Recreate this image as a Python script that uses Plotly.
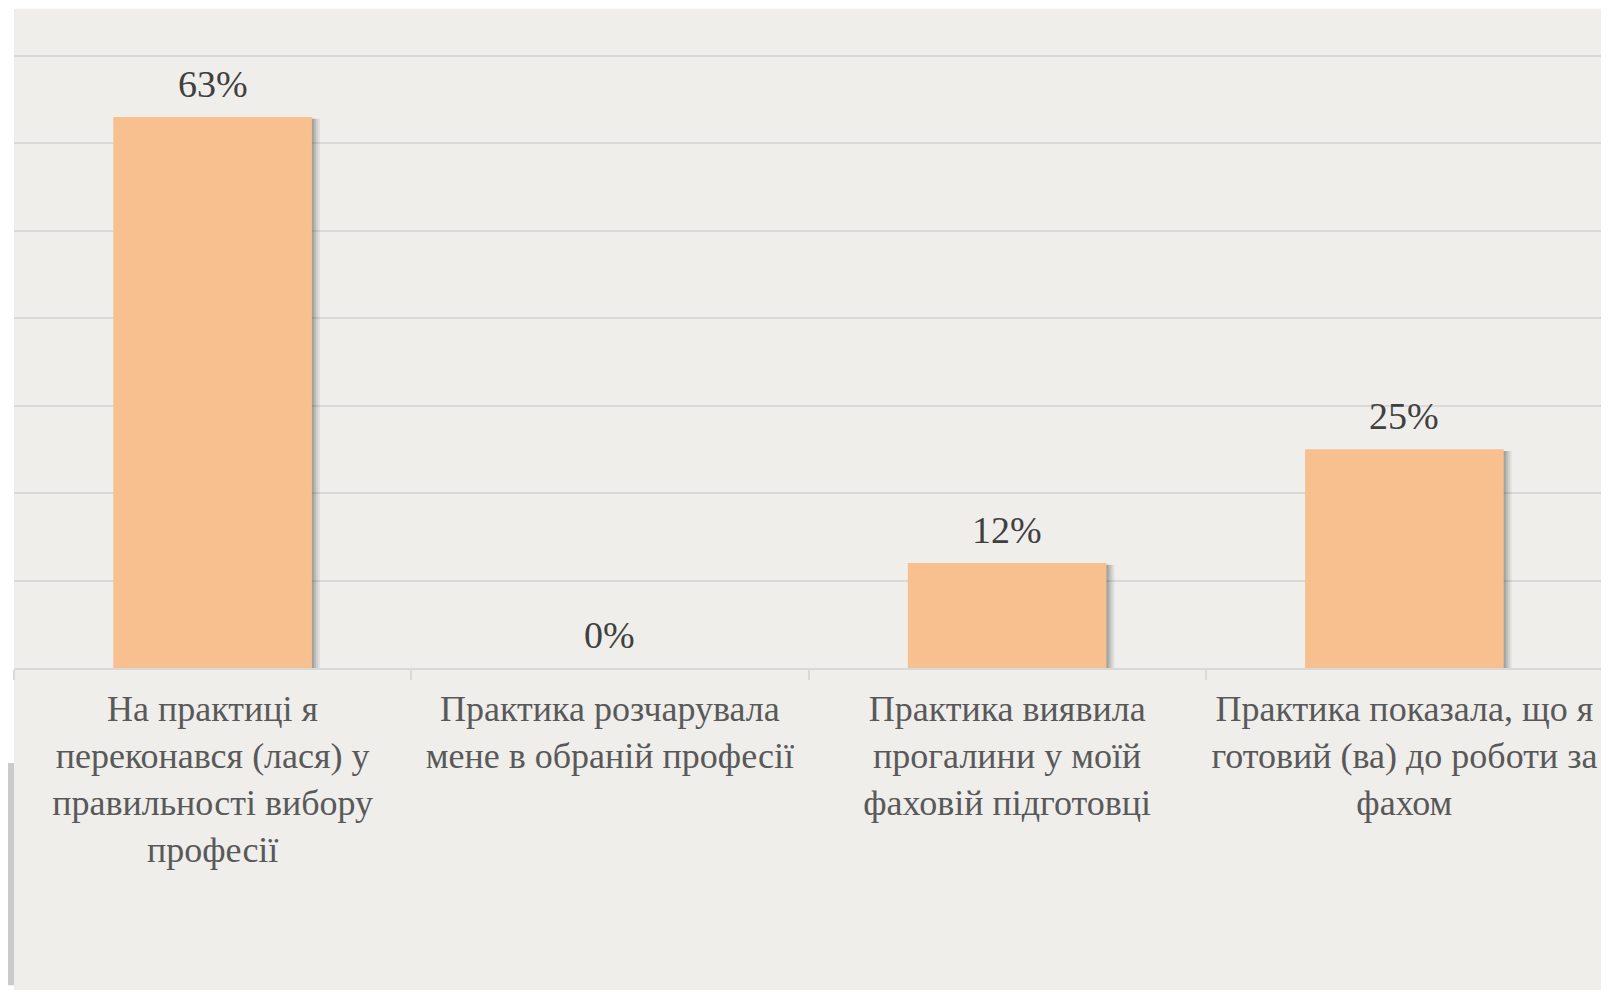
import plotly.graph_objects as go

categories = [
    "На практиці я<br>переконався (лася) у<br>правильності вибору<br>професії",
    "Практика розчарувала<br>мене в обраній професії",
    "Практика виявила<br>прогалини у моїй<br>фаховій підготовці",
    "Практика показала, що я<br>готовий (ва) до роботи за<br>фахом",
]
values = [0.63, 0.0, 0.12, 0.25]
labels = ["63%", "0%", "12%", "25%"]

PANEL = "#EFEEEB"
BAR = "#F9C08F"
# page body has an 8px margin
W, H = 1601, 982
L, R, T, B = 6, 6, 39.3, 322
pw = W - L - R
ph = H - T - B
cat_px = pw / 4.0
YMAX = 0.71

fig = go.Figure()
# soft shadow layers
for shift, alpha in [(8, 0.06), (6, 0.08), (4, 0.10), (2, 0.12)]:
    fig.add_trace(go.Bar(
        x=categories, y=[v + 0.002 if v > 0 else 0.002 for v in values], base=-0.004,
        width=0.5, offset=-0.25 + shift / cat_px,
        marker=dict(color=f"rgba(0,0,0,{alpha})", line=dict(width=0)),
        hoverinfo="skip", showlegend=False,
    ))
fig.add_trace(go.Bar(
    x=categories, y=values, width=0.5,
    marker=dict(color=BAR, line=dict(width=0)),
    showlegend=False,
))
for c, v, t in zip(categories, values, labels):
    fig.add_annotation(x=c, y=v, text=t, showarrow=False, yanchor="bottom", yshift=10,
                       font=dict(family="Liberation Serif", size=38, color="#404040"))

# background decorations (white top strip, left white strip and left shadow)
fig.add_shape(type="rect", xref="paper", yref="paper", x0=-L / pw - 0.01, x1=1.02,
              y0=1 + (T - 1) / ph, y1=1 + T / ph + 0.01, fillcolor="white", line_width=0, layer="below")
fig.add_shape(type="rect", xref="paper", yref="paper", x0=-L / pw - 0.01, x1=0,
              y0=-B / ph - 0.01, y1=1 + T / ph + 0.01, fillcolor="white", line_width=0, layer="below")
fig.add_shape(type="rect", xref="paper", yref="paper", x0=-L / pw - 0.01, x1=0,
              y0=-(977 - 660) / ph, y1=-(755 - 660) / ph, fillcolor="#CACACA", line_width=0, layer="below")

fig.update_layout(
    width=W, height=H,
    margin=dict(l=L, r=R, t=T, b=B, pad=0, autoexpand=False),
    paper_bgcolor=PANEL, plot_bgcolor=PANEL,
    barmode="overlay", bargap=0.5,
    font=dict(family="Liberation Serif", color="#595959"),
)
fig.update_xaxes(
    showline=True, linecolor="#D9D9D9", linewidth=2,
    ticks="outside", tickson="boundaries", ticklen=10, tickcolor="#D9D9D9", tickwidth=2,
    tickfont=dict(family="Liberation Serif", size=36, color="#595959"),
    tickangle=0, automargin=False,
    ticklabelstandoff=8,
    showgrid=False, fixedrange=True,
)
fig.update_yaxes(
    range=[0, YMAX], dtick=0.1, showgrid=True, gridcolor="#D9D9D9", gridwidth=2,
    showticklabels=False, zeroline=False, fixedrange=True, automargin=False,
)
fig.write_html("out.html")
